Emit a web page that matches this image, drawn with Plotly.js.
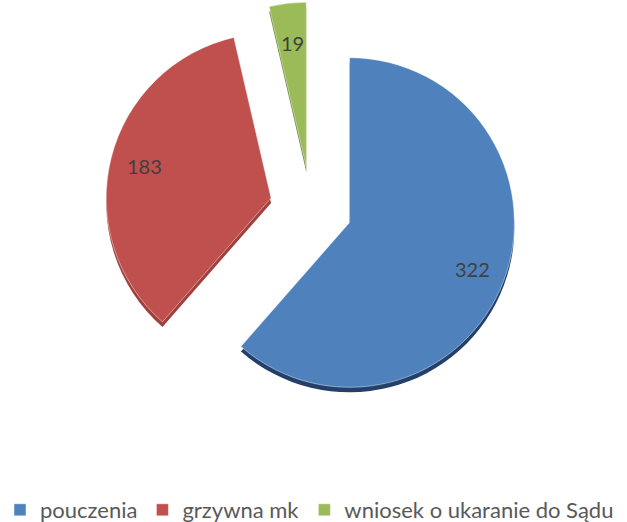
<!DOCTYPE html>
<html><head><meta charset="utf-8">
<script src="https://cdn.plot.ly/plotly-3.0.1.min.js"></script>
<style>html,body{margin:0;padding:0;background:#fff;}#chart{width:627px;height:522px;}</style>
</head><body><div id="chart"></div>
<script>
const categories = ["pouczenia", "grzywna mk", "wniosek o ukaranie do Sądu"];
const values = [322, 183, 19];
const colors = ["#4F81BD", "#C0504D", "#9BBB59"];
const shadeColors = ["#22406A", "#A23E3B", "#6E8A3A"];

const W = 627, H = 522;
const DEPTH = 5;
const PIE_CX = 311, PIE_SIZE = 412;
const m = {l: 0, r: 0, t: 2, b: 108 - DEPTH};
const pw = W - m.l - m.r, ph = H - m.t - m.b;
const PULL = 0.25;
const dy = DEPTH / ph;
const dx0 = (PIE_CX - PIE_SIZE / 2 - m.l) / pw, dx1 = (PIE_CX + PIE_SIZE / 2 - m.l) / pw;

const shadow = {
  type: "pie", values: values, labels: categories, sort: false, direction: "clockwise", rotation: 0,
  pull: values.map(() => PULL), marker: {colors: shadeColors, line: {width: 0}},
  textinfo: "none", hoverinfo: "skip", showlegend: false,
  domain: {x: [dx0, dx1], y: [0, 1 - dy]}
};
const main = {
  type: "pie", values: values, labels: categories, sort: false, direction: "clockwise", rotation: 0,
  pull: values.map(() => PULL), marker: {colors: colors, line: {width: 0.8, color: "rgba(255,255,255,0.55)"}},
  textinfo: "none",
  domain: {x: [dx0, dx1], y: [dy, 1]}
};

// value labels placed along each slice's mid-angle (computed from the data)
const total = values.reduce((a, b) => a + b, 0);
const mainH = ph - DEPTH;
const R = Math.min(PIE_SIZE, mainH) / 2 / (1 + PULL);
const cx = PIE_CX, cy = m.t + mainH / 2;
const labelFrac = [0.8, 0.79, 0.76];
let cum = 0;
const annotations = values.map((v, i) => {
  const mid = (cum + v / 2) / total * 2 * Math.PI; cum += v;
  const sx = Math.sin(mid), sy = -Math.cos(mid);
  const ax = cx + sx * PULL * R, ay = cy + sy * PULL * R;
  const px = ax + sx * labelFrac[i] * R, py = ay + sy * labelFrac[i] * R;
  return {text: String(v), xref: "paper", yref: "paper", showarrow: false,
    x: (px - m.l) / pw, y: 1 - (py - m.t) / ph, xanchor: "center", yanchor: "middle",
    font: {family: "Lato, 'Open Sans', sans-serif", size: 20, color: "#404040"}};
});

const layout = {
  width: W, height: H, margin: m, paper_bgcolor: "#fff", plot_bgcolor: "#fff",
  showlegend: true, annotations: annotations,
  legend: {orientation: "h", xref: "container", yref: "container", x: 0, xanchor: "left", y: 0.023, yanchor: "middle",
    font: {family: "Lato, 'Open Sans', sans-serif", size: 22, color: "#595959"},
    traceorder: "normal", itemwidth: 30}
};
Plotly.newPlot("chart", [shadow, main], layout, {displayModeBar: false, staticPlot: true});
</script></body></html>
